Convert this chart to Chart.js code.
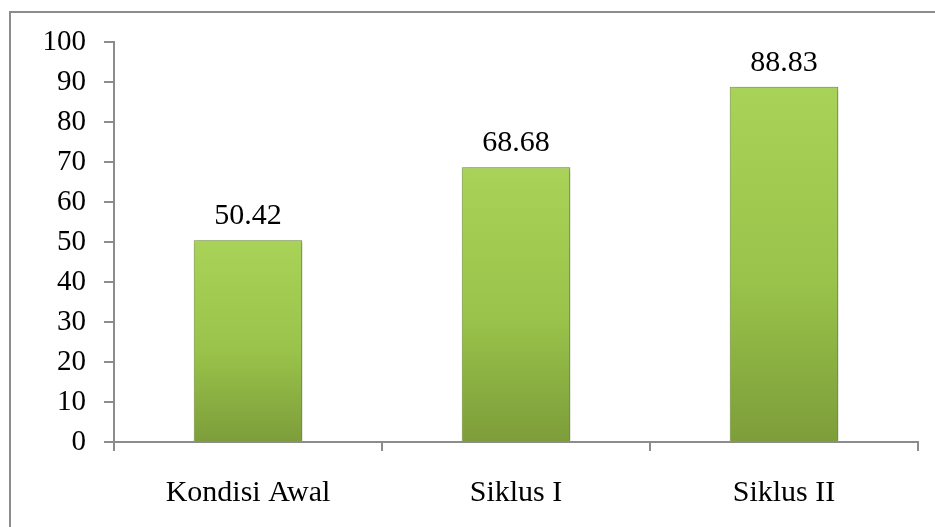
<!DOCTYPE html>
<html>
<head>
<meta charset="utf-8">
<script src="https://cdn.jsdelivr.net/npm/chart.js@4"></script>
<style>
  body { margin: 0; background: #fff; overflow: hidden; }
  #wrap { position: relative; width: 935px; height: 527px; }
  #frame { position: absolute; left: 9px; top: 11px; width: 1000px; height: 1000px; border: 2px solid #8c8c8c; }
  canvas { position: absolute; left: 0; top: 0; }
</style>
</head>
<body>
<div id="wrap">
  <div id="frame"></div>
  <canvas id="nilaiChart" width="935" height="527"></canvas>
</div>
<script>
const categories = ['Kondisi Awal', 'Siklus I', 'Siklus II'];
const nilai = [50.42, 68.68, 88.83];
const yTicks = [0, 10, 20, 30, 40, 50, 60, 70, 80, 90, 100];

const serif = "'Liberation Serif', 'Times New Roman', serif";

// gradient per bar, light on top, darker at the base
function barFill(context) {
  const chart = context.chart;
  const area = chart.chartArea;
  if (!area) return '#9bc44b';
  const yScale = chart.scales.y;
  const top = yScale.getPixelForValue(context.raw);
  const g = chart.ctx.createLinearGradient(0, top, 0, yScale.getPixelForValue(0));
  g.addColorStop(0, '#a9d258');
  g.addColorStop(0.55, '#99c34a');
  g.addColorStop(1, '#7d9d3a');
  return g;
}

// soft shadow on the right of the bars
const barShadow = {
  id: 'barShadow',
  beforeDatasetsDraw(chart) {
    const ctx = chart.ctx;
    ctx.save();
    ctx.shadowColor = 'rgba(0,0,0,0.35)';
    ctx.shadowBlur = 4;
    ctx.shadowOffsetX = 2;
    ctx.shadowOffsetY = 1;
  },
  afterDatasetsDraw(chart) {
    chart.ctx.restore();
  }
};

const valueLabels = {
  id: 'valueLabels',
  afterDatasetsDraw(chart) {
    const ctx = chart.ctx;
    const meta = chart.getDatasetMeta(0);
    ctx.save();
    ctx.font = '30px ' + serif;
    ctx.fillStyle = '#000';
    ctx.textAlign = 'center';
    ctx.textBaseline = 'alphabetic';
    meta.data.forEach((bar, i) => {
      ctx.fillText(nilai[i].toFixed(2), bar.x, bar.y - 16);
    });
    ctx.restore();
  }
};

new Chart(document.getElementById('nilaiChart'), {
  type: 'bar',
  data: {
    labels: categories,
    datasets: [{
      data: nilai,
      backgroundColor: barFill,
      borderColor: '#78983a',
      borderWidth: 1,
      barPercentage: 1,
      categoryPercentage: 0.405
    }]
  },
  options: {
    responsive: false,
    animation: false,
    layout: { padding: { top: 42, right: 17, left: 0, bottom: 0 } },
    plugins: { legend: { display: false }, tooltip: { enabled: false } },
    scales: {
      x: {
        afterFit: s => { s.height = 85; },
        grid: { offset: true, drawOnChartArea: false, tickLength: 9, color: '#8c8c8c', lineWidth: 2 },
        border: { color: '#8c8c8c', width: 2 },
        ticks: { color: '#000', padding: 24, font: { family: serif, size: 30 } }
      },
      y: {
        min: 0,
        max: 100,
        afterFit: s => { s.width = 114; },
        afterBuildTicks: s => { s.ticks = yTicks.map(v => ({ value: v })); },
        grid: { drawOnChartArea: false, tickLength: 10, color: '#8c8c8c', lineWidth: 2 },
        border: { color: '#8c8c8c', width: 2 },
        ticks: { color: '#000', padding: 18, font: { family: serif, size: 29 } }
      }
    }
  },
  plugins: [barShadow, valueLabels]
});
</script>
</body>
</html>
